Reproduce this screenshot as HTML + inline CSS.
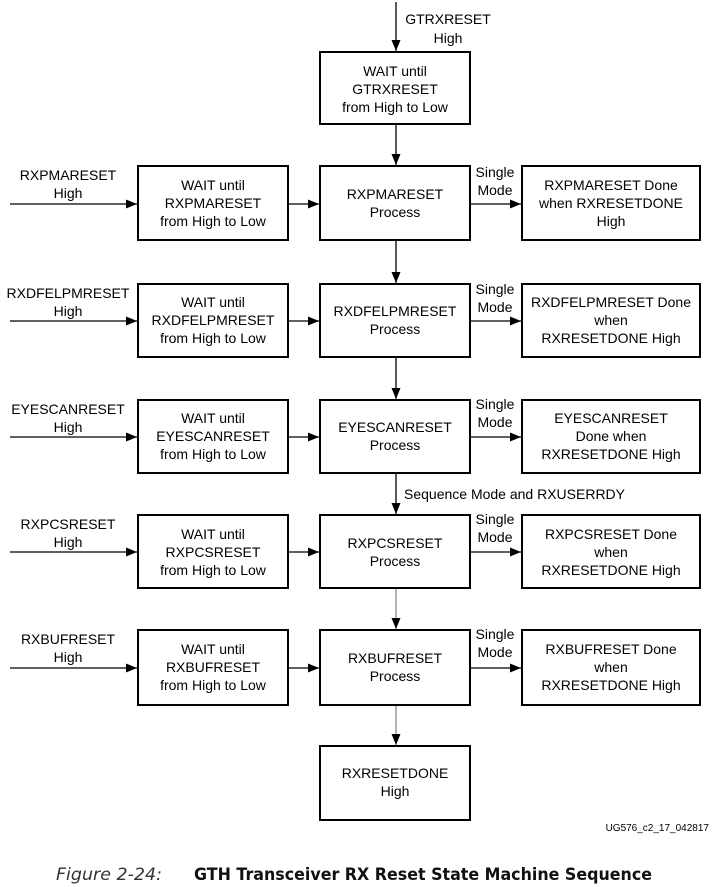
<!DOCTYPE html>
<html><head><meta charset="utf-8"><style>
body{margin:0;background:#fff;}
svg{display:block;font-family:"Liberation Sans",Arial,sans-serif;}
text{font-size:14px;fill:#000;text-anchor:middle;}
.l{text-anchor:start}
</style></head><body>
<svg width="713" height="887" viewBox="0 0 713 887">
<defs><marker id="a" markerWidth="11" markerHeight="9" refX="11" refY="4.5" orient="auto" markerUnits="userSpaceOnUse"><path d="M0,0 L11,4.5 L0,9 Z" fill="#000"/></marker></defs>
<g fill="none" stroke="#000" stroke-width="2">
<rect x="320" y="52" width="150" height="72"/>
<rect x="138" y="166" width="150" height="74"/><rect x="320" y="166" width="150" height="74"/><rect x="522" y="166" width="178" height="74"/>
<rect x="138" y="284" width="150" height="73"/><rect x="320" y="284" width="150" height="73"/><rect x="522" y="284" width="178" height="73"/>
<rect x="138" y="400" width="150" height="73"/><rect x="320" y="400" width="150" height="73"/><rect x="522" y="400" width="178" height="73"/>
<rect x="138" y="515" width="150" height="73"/><rect x="320" y="515" width="150" height="73"/><rect x="522" y="515" width="178" height="73"/>
<rect x="138" y="630" width="150" height="75"/><rect x="320" y="630" width="150" height="75"/><rect x="522" y="630" width="178" height="75"/>
<rect x="320" y="746" width="150" height="74"/>
</g>
<g stroke="#000" stroke-width="1.3" marker-end="url(#a)">
<line x1="396" y1="2" x2="396" y2="51"/>
<line x1="396" y1="125" x2="396" y2="165"/>
<line x1="396" y1="241" x2="396" y2="283"/>
<line x1="396" y1="358" x2="396" y2="399"/>
<line x1="396" y1="474" x2="396" y2="514"/>
<line x1="396" y1="589" x2="396" y2="629" stroke="#888"/>
<line x1="396" y1="706" x2="396" y2="745" stroke="#888"/>
<line x1="10" y1="204" x2="137" y2="204"/><line x1="289" y1="204" x2="319" y2="204"/><line x1="471" y1="204" x2="521" y2="204"/>
<line x1="10" y1="321" x2="137" y2="321"/><line x1="289" y1="321" x2="319" y2="321"/><line x1="471" y1="321" x2="521" y2="321"/>
<line x1="10" y1="437" x2="137" y2="437"/><line x1="289" y1="437" x2="319" y2="437"/><line x1="471" y1="437" x2="521" y2="437"/>
<line x1="10" y1="552" x2="137" y2="552"/><line x1="289" y1="552" x2="319" y2="552"/><line x1="471" y1="552" x2="521" y2="552"/>
<line x1="10" y1="668" x2="137" y2="668"/><line x1="289" y1="668" x2="319" y2="668"/><line x1="471" y1="668" x2="521" y2="668"/>
</g>
<text x="448" y="24">GTRXRESET</text><text x="448" y="43">High</text>
<text x="395" y="76">WAIT until</text><text x="395" y="94">GTRXRESET</text><text x="395" y="112">from High to Low</text>

<text x="68" y="180">RXPMARESET</text><text x="68" y="198">High</text>
<text x="213" y="190">WAIT until</text><text x="213" y="208">RXPMARESET</text><text x="213" y="226">from High to Low</text>
<text x="395" y="199">RXPMARESET</text><text x="395" y="217">Process</text>
<text x="495" y="177">Single</text><text x="495" y="195">Mode</text>
<text x="611" y="190">RXPMARESET Done</text><text x="611" y="208">when RXRESETDONE</text><text x="611" y="226">High</text>

<text x="68" y="298">RXDFELPMRESET</text><text x="68" y="316">High</text>
<text x="213" y="307">WAIT until</text><text x="213" y="325">RXDFELPMRESET</text><text x="213" y="343">from High to Low</text>
<text x="395" y="316">RXDFELPMRESET</text><text x="395" y="334">Process</text>
<text x="495" y="294">Single</text><text x="495" y="312">Mode</text>
<text x="611" y="307">RXDFELPMRESET Done</text><text x="611" y="325">when</text><text x="611" y="343">RXRESETDONE High</text>

<text x="68" y="414">EYESCANRESET</text><text x="68" y="432">High</text>
<text x="213" y="423">WAIT until</text><text x="213" y="441">EYESCANRESET</text><text x="213" y="459">from High to Low</text>
<text x="395" y="432">EYESCANRESET</text><text x="395" y="450">Process</text>
<text x="495" y="409">Single</text><text x="495" y="427">Mode</text>
<text x="611" y="423">EYESCANRESET</text><text x="611" y="441">Done when</text><text x="611" y="459">RXRESETDONE High</text>

<text class="l" x="404" y="499">Sequence Mode and RXUSERRDY</text>

<text x="68" y="529">RXPCSRESET</text><text x="68" y="547">High</text>
<text x="213" y="539">WAIT until</text><text x="213" y="557">RXPCSRESET</text><text x="213" y="575">from High to Low</text>
<text x="395" y="548">RXPCSRESET</text><text x="395" y="566">Process</text>
<text x="495" y="524">Single</text><text x="495" y="542">Mode</text>
<text x="611" y="539">RXPCSRESET Done</text><text x="611" y="557">when</text><text x="611" y="575">RXRESETDONE High</text>

<text x="68" y="644">RXBUFRESET</text><text x="68" y="662">High</text>
<text x="213" y="654">WAIT until</text><text x="213" y="672">RXBUFRESET</text><text x="213" y="690">from High to Low</text>
<text x="395" y="663">RXBUFRESET</text><text x="395" y="681">Process</text>
<text x="495" y="639">Single</text><text x="495" y="657">Mode</text>
<text x="611" y="654">RXBUFRESET Done</text><text x="611" y="672">when</text><text x="611" y="690">RXRESETDONE High</text>

<text x="395" y="778">RXRESETDONE</text><text x="395" y="796">High</text>
<text x="709" y="831" style="font-size:10px;text-anchor:end">UG576_c2_17_042817</text>
<text class="l" x="56" y="880" textLength="106" lengthAdjust="spacingAndGlyphs" style="font-family:'DejaVu Sans',sans-serif;font-size:17px;font-style:italic;fill:#333">Figure 2-24:</text>
<text class="l" x="194" y="880" textLength="458" lengthAdjust="spacingAndGlyphs" style="font-family:'DejaVu Sans',sans-serif;font-size:17px;font-weight:bold;fill:#111">GTH Transceiver RX Reset State Machine Sequence</text>
</svg>
</body></html>
